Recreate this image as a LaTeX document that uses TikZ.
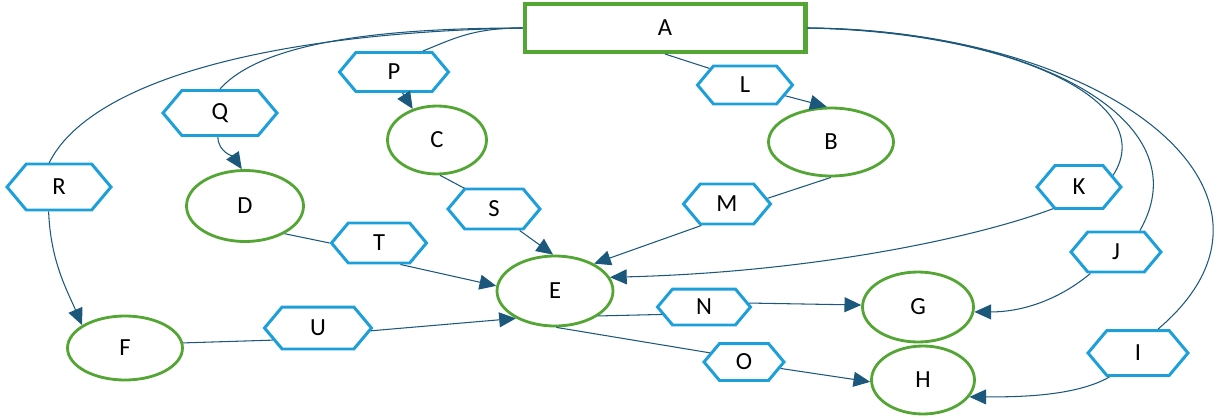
\documentclass[tikz,border=0pt]{standalone}
\usepackage{fontspec}
\setmainfont{Carlito}
\usetikzlibrary{shapes.geometric,shapes.symbols,arrows.meta}

\definecolor{nodegreen}{RGB}{84,166,52}
\definecolor{hexblue}{RGB}{29,160,218}
\definecolor{linkblue}{RGB}{27,88,124}

\tikzset{
  hexa/.style={signal, signal to=west and east, signal pointer angle=100,
    draw=hexblue, line width=1.7pt, fill=white, inner sep=1pt},
  oval/.style={ellipse, draw=nodegreen, line width=1.6pt, fill=white, inner sep=0pt},
  link/.style={draw=linkblue, line width=0.6pt},
  arrowed/.style={-{Triangle[length=9.5pt,width=8.5pt]}}
}

\begin{document}
\begin{tikzpicture}[x=0.02cm, y=-0.02cm, font=\fontsize{14}{16}\selectfont]
  \useasboundingbox (0,0) rectangle (1231,419);

  % Root box
  \node[draw=nodegreen, line width=2.3pt, minimum width=5.62cm, minimum height=0.96cm] (A) at (665,28) {A};

  % Hexagons: name/x/y/width/height
  \foreach \n/\x/\y/\w/\h in {P/394/72/2.18/0.78, Q/220/113/2.28/0.9, R/59/187/2.08/0.92,
      L/745/85/1.9/0.76, K/1079/187/1.68/0.86, M/727/204/1.74/0.8, S/494/209/1.84/0.8,
      T/379/243/1.9/0.8, J/1116/252/1.8/0.8, N/704/307/1.86/0.72, U/318/328/2.14/0.84,
      O/744/362/1.6/0.74, I/1138/353/2.0/0.9}
    \node[hexa, minimum width=\w cm, minimum height=\h cm] (\n) at (\x,\y) {\n};

  % Ellipses: name/x/y/width/height
  \foreach \n/\x/\y/\w/\h in {C/437/140/1.98/1.36, B/831/142/2.5/1.36, D/245/206/2.34/1.42,
      E/555/291/2.32/1.4, F/125/348/2.3/1.28, G/918/307/2.22/1.4, H/923/380/2.06/1.36}
    \node[oval, minimum width=\w cm, minimum height=\h cm] (\n) at (\x,\y) {\n};

  % Left branches from A
  \draw[link] (A.west) .. controls +(-50,0) and +(30,-12) .. (P.36);
  \draw[link] (A.west) .. controls +(-150,0) and +(40,-45) .. (Q.north);
  \draw[link] (A.west) .. controls +(-260,5) and +(40,-80) .. (R.112);
  \draw[link, arrowed] (P.-68) -- (C.128);
  \draw[link, arrowed] (Q.-95) .. controls +(0,15) and +(-8,-12) .. (D.95);
  \draw[link, arrowed] (R.-113) .. controls +(2,50) and +(-15,-35) .. (F.152);

  % Middle branches
  \draw[link] (A.south) -- (L.155);
  \draw[link, arrowed] (L.-15) -- (B.97);
  \draw[link] (B.-90) -- (M.8);
  \draw[link, arrowed] (M.-140) -- (E.35);
  \draw[link] (C.-85) -- (S.145);
  \draw[link, arrowed] (S.-40) -- (E.93);
  \draw[link] (D.-35) -- (T.west);
  \draw[link, arrowed] (T.-45) -- (E.175);
  \draw[link] (F.5) -- (U.-165);
  \draw[link, arrowed] (U.-3) -- (E.-145);
  \draw[link] (E.-30) -- (N.-170);
  \draw[link, arrowed] (N.5) -- (G.178);
  \draw[link] (E.-88) -- (O.165);
  \draw[link, arrowed] (O.-10) -- (H.-178);

  % Right branches from A
  \draw[link] (A.east) .. controls +(204,4) and +(48,-74) .. (K.19);
  \draw[link] (A.east) .. controls +(224,2) and +(64,-111) .. (J.42);
  \draw[link] (A.east) .. controls +(300,2) and +(160,-136) .. (I.50);
  \draw[link, arrowed] (K.-140) .. controls +(-80,30) and +(200,-5) .. (E.14);
  \draw[link, arrowed] (J.-140) .. controls +(-30,25) and +(50,0) .. (G.-5);
  \draw[link, arrowed] (I.-140) .. controls +(-35,20) and +(45,0) .. (H.-20);
\end{tikzpicture}
\end{document}
